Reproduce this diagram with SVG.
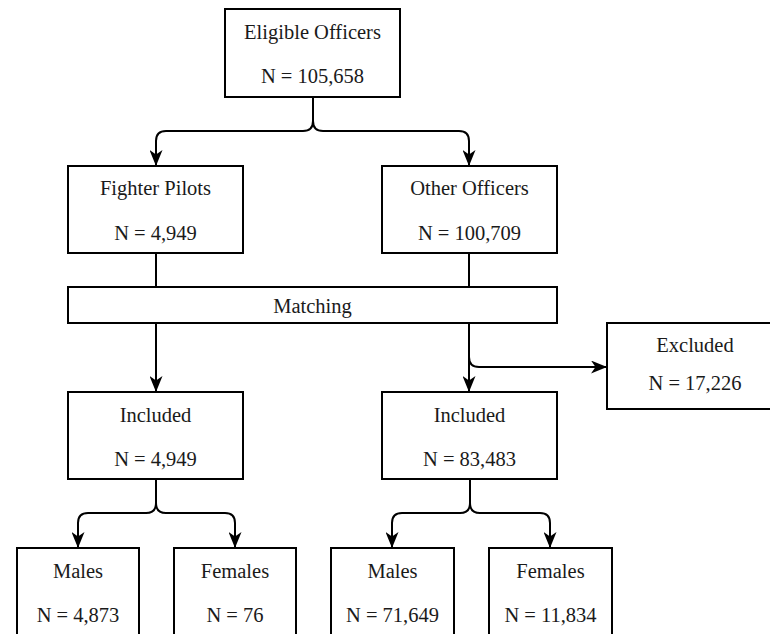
<svg xmlns="http://www.w3.org/2000/svg" width="770" height="634" viewBox="0 0 770 634">
<style>
.box{fill:#fff;stroke:#000;stroke-width:2}
.t{font-family:"Liberation Serif","DejaVu Serif",serif;font-size:20.5px;fill:#1a1a1a;text-anchor:middle}
.c{fill:none;stroke:#000;stroke-width:2}
</style>
<defs>
<marker id="arr" markerUnits="userSpaceOnUse" viewBox="0 0 16 13" markerWidth="16" markerHeight="13" refX="15" refY="6.5" orient="auto">
<path d="M0,0 L16,6.5 L0,13 L4.5,6.5 z" fill="#000"/>
</marker>
</defs>
<rect width="770" height="634" fill="#fff"/>
<g id="connectors">
<path class="c" d="M313,97 V121 Q313,131 303,131 H166 Q156,131 156,141 V165" marker-end="url(#arr)"/>
<path class="c" d="M313,97 V121 Q313,131 323,131 H459 Q469,131 469,141 V165" marker-end="url(#arr)"/>
<path class="c" d="M156,253 V287"/>
<path class="c" d="M469,253 V287"/>
<path class="c" d="M156,323 V391" marker-end="url(#arr)"/>
<path class="c" d="M469,323 V391" marker-end="url(#arr)"/>
<path class="c" d="M469,323 V357 Q469,367 479,367 H606" marker-end="url(#arr)"/>
<path class="c" d="M156,479 V503 Q156,513 146,513 H88 Q78,513 78,523 V547" marker-end="url(#arr)"/>
<path class="c" d="M156,479 V503 Q156,513 166,513 H225 Q235,513 235,523 V547" marker-end="url(#arr)"/>
<path class="c" d="M470,479 V503 Q470,513 460,513 H402 Q392,513 392,523 V547" marker-end="url(#arr)"/>
<path class="c" d="M470,479 V503 Q470,513 480,513 H540 Q550,513 550,523 V547" marker-end="url(#arr)"/>
</g>
<g id="eligible">
<rect class="box" x="225" y="9" width="175" height="88"/>
<text class="t" x="312.5" y="39">Eligible Officers</text>
<text class="t" x="312.5" y="83">N = 105,658</text>
</g>
<g id="fighter">
<rect class="box" x="68" y="166" width="175" height="87"/>
<text class="t" x="155.5" y="195">Fighter Pilots</text>
<text class="t" x="155.5" y="240">N = 4,949</text>
</g>
<g id="other">
<rect class="box" x="382" y="166" width="175" height="87"/>
<text class="t" x="469.5" y="195">Other Officers</text>
<text class="t" x="469.5" y="240">N = 100,709</text>
</g>
<g id="matching">
<rect class="box" x="68" y="287" width="489" height="36"/>
<text class="t" x="312.5" y="313">Matching</text>
</g>
<g id="excluded">
<rect class="box" x="607" y="323" width="176" height="86"/>
<text class="t" x="695" y="352">Excluded</text>
<text class="t" x="695" y="390">N = 17,226</text>
</g>
<g id="included-fp">
<rect class="box" x="68" y="392" width="175" height="87"/>
<text class="t" x="155.5" y="422">Included</text>
<text class="t" x="155.5" y="466">N = 4,949</text>
</g>
<g id="included-oo">
<rect class="box" x="382" y="392" width="175" height="87"/>
<text class="t" x="469.5" y="422">Included</text>
<text class="t" x="469.5" y="466">N = 83,483</text>
</g>
<g id="males-fp">
<rect class="box" x="17" y="548" width="122" height="100"/>
<text class="t" x="78" y="578">Males</text>
<text class="t" x="78" y="622">N = 4,873</text>
</g>
<g id="females-fp">
<rect class="box" x="174" y="548" width="122" height="100"/>
<text class="t" x="235" y="578">Females</text>
<text class="t" x="235" y="622">N = 76</text>
</g>
<g id="males-oo">
<rect class="box" x="331" y="548" width="123" height="100"/>
<text class="t" x="392.5" y="578">Males</text>
<text class="t" x="392.5" y="622">N = 71,649</text>
</g>
<g id="females-oo">
<rect class="box" x="489" y="548" width="123" height="100"/>
<text class="t" x="550.5" y="578">Females</text>
<text class="t" x="550.5" y="622">N = 11,834</text>
</g>
</svg>
